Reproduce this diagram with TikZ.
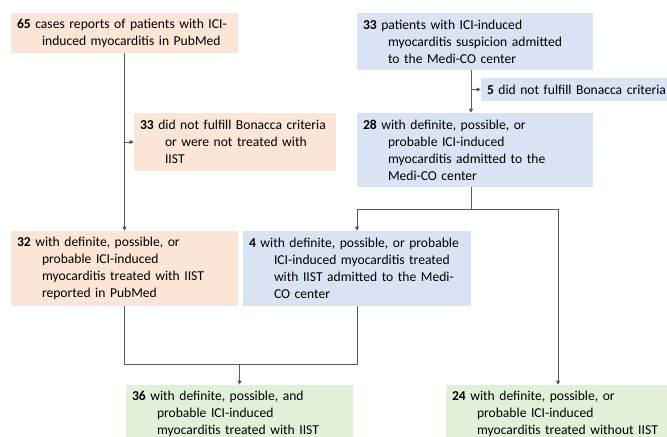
\documentclass[tikz,border=0pt]{standalone}
\usepackage{fontspec}
\setmainfont{Carlito}
\usetikzlibrary{arrows.meta}
\definecolor{orfill}{HTML}{FBE5D6}
\definecolor{blfill}{HTML}{DAE3F3}
\definecolor{grfill}{HTML}{E2F0D9}
\definecolor{lncol}{HTML}{595959}
\newcommand\hnl{\\\hspace*{18.75pt}}
\begin{document}
\begin{tikzpicture}[x=0.75pt,y=-0.75pt,
  box/.style={inner xsep=4.5pt, inner ysep=0pt, align=left, anchor=center,
    font=\fontsize{10.2}{12.75}\selectfont, text=black},
  orbox/.style={box, fill=orfill},
  blbox/.style={box, fill=blfill},
  grbox/.style={box, fill=grfill},
  conn/.style={draw=lncol, line width=0.7pt},
  arr/.style={conn, -{Triangle[length=3pt,width=3pt]}}]
\useasboundingbox (0,0) rectangle (667,436);

\node[orbox, text width=161.25pt, minimum height=30pt] (A) at (124.5,33)
  {\mbox{\textbf{65} cases reports of patients with ICI-}\hnl\mbox{induced myocarditis in PubMed}};
\node[orbox, text width=142.5pt, minimum height=43.5pt] (B) at (235,142)
  {\mbox{\textbf{33} did not fulfill Bonacca criteria}\hnl\mbox{or were not treated with}\hnl\mbox{IIST}};
\node[orbox, text width=161.25pt, minimum height=56.25pt] (C) at (124.5,268.5)
  {\mbox{\textbf{32} with definite, possible, or}\hnl\mbox{probable ICI-induced}\hnl\mbox{myocarditis treated with IIST}\hnl\mbox{reported in PubMed}};
\node[blbox, text width=168pt, minimum height=42.75pt] (D) at (475,41.5)
  {\mbox{\textbf{33} patients with ICI-induced}\hnl\mbox{myocarditis suspicion admitted}\hnl\mbox{to the Medi-CO center}};
\node[blbox, text width=140.25pt, minimum height=17.25pt] (E) at (580.5,89.5)
  {\mbox{\textbf{5} did not fulfill Bonacca criteria}};
\node[blbox, text width=168pt, minimum height=55.5pt] (F) at (475,150)
  {\mbox{\textbf{28} with definite, possible, or}\hnl\mbox{probable ICI-induced}\hnl\mbox{myocarditis admitted to the}\hnl\mbox{Medi-CO center}};
\node[blbox, text width=162pt, minimum height=56.25pt] (G) at (357,268.5)
  {\mbox{\textbf{4} with definite, possible, or probable}\hnl\mbox{ICI-induced myocarditis treated}\hnl\mbox{with IIST admitted to the Medi-}\hnl\mbox{CO center}};
\node[grbox, text width=161.25pt, minimum height=43.5pt] (H) at (239.5,414)
  {\mbox{\textbf{36} with definite, possible, and}\hnl\mbox{probable ICI-induced}\hnl\mbox{myocarditis treated with IIST}};
\node[grbox, text width=166.5pt, minimum height=43.5pt] (I) at (563,414)
  {\mbox{\textbf{24} with definite, possible, or}\hnl\mbox{probable ICI-induced}\hnl\mbox{myocarditis treated without IIST}};

% left column
\draw[arr] (A.south) -- (C.north);
\draw[arr] (A.south |- B.west) -- (B.west);
% right column
\coordinate (dx) at ([xshift=-3pt]D.south);
\draw[arr] (dx) -- (dx |- F.north);
\draw[arr] (dx |- E.west) -- (E.west);
\coordinate (fx) at ([xshift=-3pt]F.south);
\coordinate (s1) at ([yshift=-16.5pt]fx);
\draw[conn] (fx) -- (s1);
\draw[arr] (s1) -| (G.north);
\coordinate (itop) at ([xshift=-3.75pt]I.north);
\draw[arr] (s1) -| (itop);
% merge
\coordinate (j) at ([yshift=15.4pt]H.north);
\draw[conn] (C.south) |- (j) -| (G.south);
\draw[arr] (j) -- (H.north);
\end{tikzpicture}
\end{document}
